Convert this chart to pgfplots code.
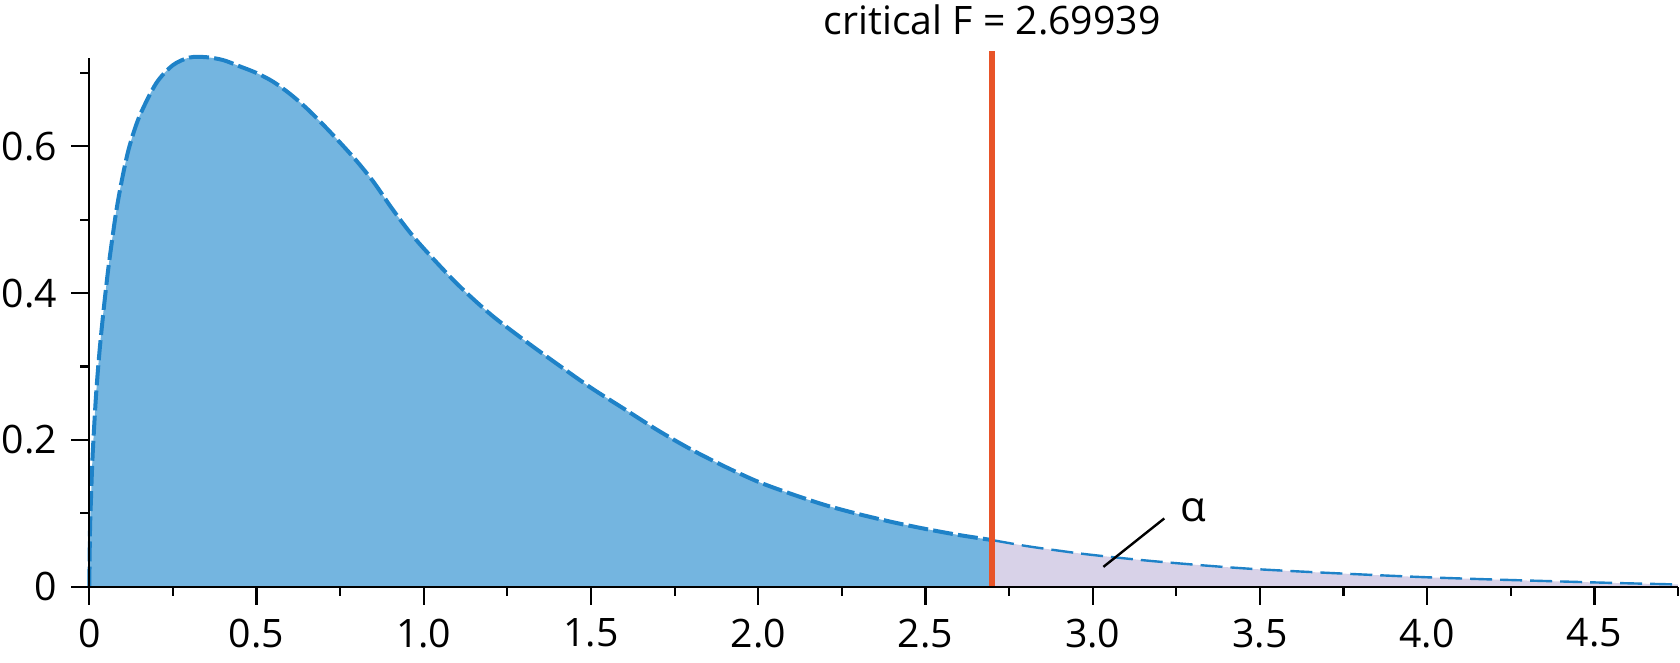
\documentclass[border=0pt]{standalone}
\usepackage{pgfplots}
\pgfplotsset{compat=1.18}
\usepackage{pgfplotstable}
\usepackage{fontspec}
\setmainfont{Open Sans}
\definecolor{fillblue}{RGB}{116,181,224}
\definecolor{lineblue}{RGB}{30,130,200}
\definecolor{fillpurple}{RGB}{216,210,232}
\definecolor{critred}{RGB}{232,84,40}

\pgfplotstableread{
x y
0 0
0.002 0.075
0.005 0.12
0.01 0.18
0.02 0.26
0.03 0.318
0.04 0.365
0.05 0.407
0.06 0.445
0.08 0.510
0.1 0.560
0.12 0.600
0.15 0.641
0.2 0.686
0.25 0.7107
0.3 0.7211
0.35 0.7215
0.4 0.7176
0.45 0.709
0.5 0.700
0.55 0.688
0.6 0.6715
0.65 0.6518
0.7 0.6292
0.75 0.6050
0.8 0.5797
0.85 0.5514
0.9 0.5185
0.95 0.4878
1.0 0.4608
1.1 0.4125
1.2 0.3710
1.3 0.3360
1.4 0.3030
1.5 0.2710
1.6 0.2420
1.7 0.2130
1.8 0.1868
1.9 0.1637
2.0 0.1429
2.1 0.1262
2.2 0.1112
2.3 0.0989
2.4 0.0881
2.5 0.0787
2.6 0.0704
2.69939 0.0635
}\leftpart

\pgfplotstableread{
x y
2.69939 0.0635
2.8 0.0555
2.9 0.0490
3.0 0.0432
3.2 0.0340
3.5 0.0236
4.0 0.0128
4.5 0.0058
4.75 0.0030
}\rightpart

\begin{document}
\begin{tikzpicture}
\begin{axis}[
  scale only axis, width=397.2pt, height=132.1pt,
  xmin=0, xmax=4.75, ymin=0, ymax=0.72,
  axis lines=left,
  axis line style={line width=0.55pt, -},
  xtick={0,0.5,1,1.5,2,2.5,3,3.5,4,4.5},
  xticklabels={0,0.5,1.0,1.5,2.0,2.5,3.0,3.5,4.0,4.5},
  minor xtick={0.25,0.75,1.25,1.75,2.25,2.75,3.25,3.75,4.25,4.75},
  ytick={0,0.2,0.4,0.6},
  yticklabels={0,0.2,0.4,0.6},
  minor ytick={0.1,0.3,0.5,0.7},
  tick align=outside,
  major tick length=4.5pt, minor tick length=2.3pt,
  every tick/.style={black, line width=0.55pt},
  ticklabel style={font=\fontsize{9.8}{11}\selectfont},
  /pgf/number format/assume math mode=true,
  clip=false,
  axis on top,
]
\addplot[draw=none, fill=fillblue, smooth] table {\leftpart} \closedcycle;
\addplot[draw=none, fill=fillpurple, smooth] table {\rightpart} \closedcycle;
\addplot[lineblue, line width=1pt, dash pattern=on 5pt off 1.3pt, smooth] table {\leftpart};
\addplot[lineblue, line width=0.6pt, dash pattern=on 5.5pt off 2pt, smooth] table {\rightpart};
\addplot[critred, line width=1.5pt] coordinates {(2.69939,0) (2.69939,0.730)};
\node[anchor=base, font=\fontsize{9.8}{11}\selectfont, inner sep=0pt] at (axis cs:2.69939,0.753) {critical F = 2.69939};
\draw[black, line width=0.6pt] (axis cs:3.032,0.027) -- (axis cs:3.214,0.093);
\node[font=\fontsize{10.5}{12}\selectfont, inner sep=0pt] at (axis cs:3.30,0.104) {α};
\end{axis}
\pgfresetboundingbox
\path ([shift={(-22.33pt,-19.08pt)}]current axis.south west) rectangle ([shift={(0.5pt,14.58pt)}]current axis.north east);
\end{tikzpicture}
\end{document}
